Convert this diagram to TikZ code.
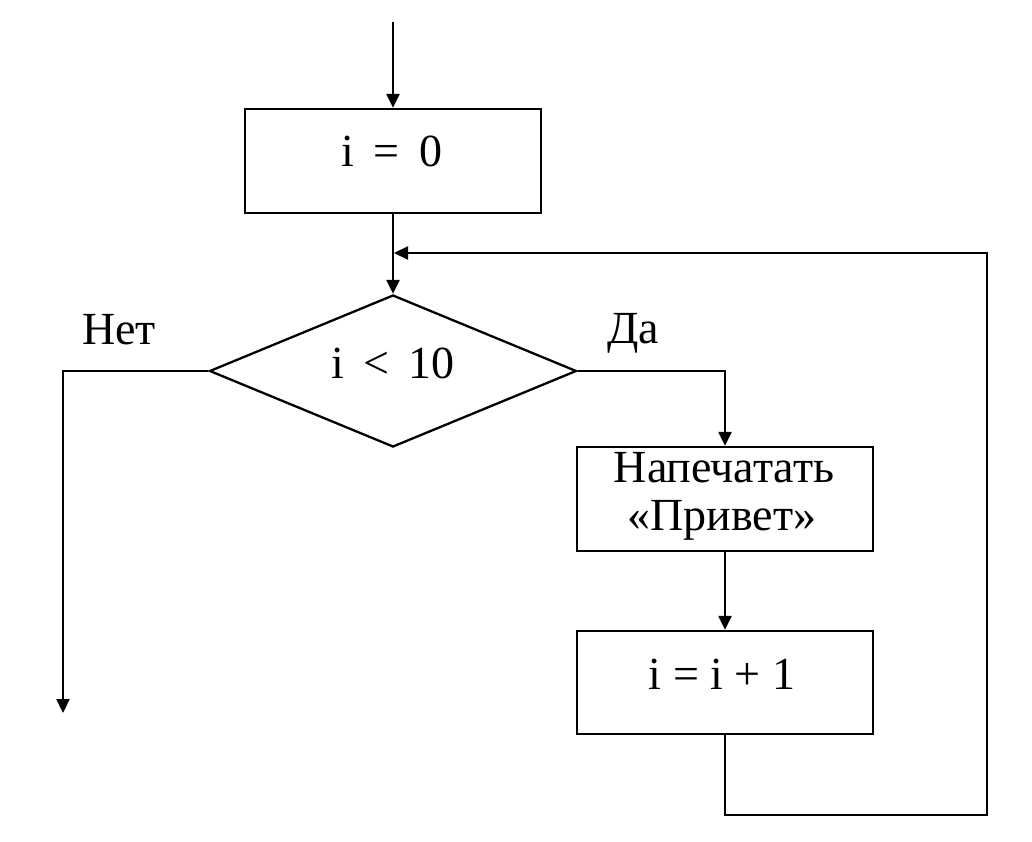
\documentclass[tikz,border=0pt]{standalone}
\usepackage{fontspec}
\setmainfont{Liberation Serif}
\usetikzlibrary{arrows.meta,shapes.geometric}
\begin{document}
\begin{tikzpicture}[x=1pt,y=-1pt,
  line width=2.3pt,
  blk/.style={draw,rectangle,inner sep=0pt,minimum width=296pt},
  dec/.style={draw,diamond,inner sep=0pt,aspect=2.41,minimum width=367pt,minimum height=152pt},
  txt/.style={anchor=base,inner sep=0pt,font=\fontsize{46}{50}\selectfont},
  arr/.style={-{Triangle[length=14pt,width=13pt]}}]
\useasboundingbox (0,0) rectangle (1032,842);
\node[blk,minimum height=104pt] (b1) at (393,161) {};
\node[dec] (d) at (393,371) {};
\node[blk,minimum height=104pt] (b2) at (725,499) {};
\node[blk,minimum height=103pt] (b3) at (725,682.5) {};
\node[txt] (t1) at (392,167) {i\hspace{0.42em}=\hspace{0.42em}0};
\node[txt] (t2) at (393,378) {i \,<\, 10};
\node[txt] (t3) at (724,482) {Напечатать};
\node[txt] (t4) at (722,530) {«Привет»};
\node[txt] (t5) at (722,689) {i = i + 1};
\node[txt] (no) at (119,344) {Нет};
\node[txt] (yes) at (633,343) {Да};
\coordinate (start) at (393,22);
\coordinate (nl) at (63,371);
\coordinate (nend) at (63,713);
\coordinate (yr) at (725,371);
\coordinate (lb) at (725,815);
\coordinate (rb) at (987,815);
\coordinate (rt) at (987,253);
\coordinate (join) at (393,253);
\draw[arr] (start) -- (b1.north);
\draw[arr] (b1.south) -- (d.north);
\draw[arr] (d.west) -- (nl) -- (nend);
\draw[arr] (d.east) -- (yr) -- (b2.north);
\draw[arr] (b2.south) -- (b3.north);
\draw[arr] (b3.south) -- (lb) -- (rb) -- (rt) -- ([xshift=1pt]join);
\end{tikzpicture}
\end{document}
